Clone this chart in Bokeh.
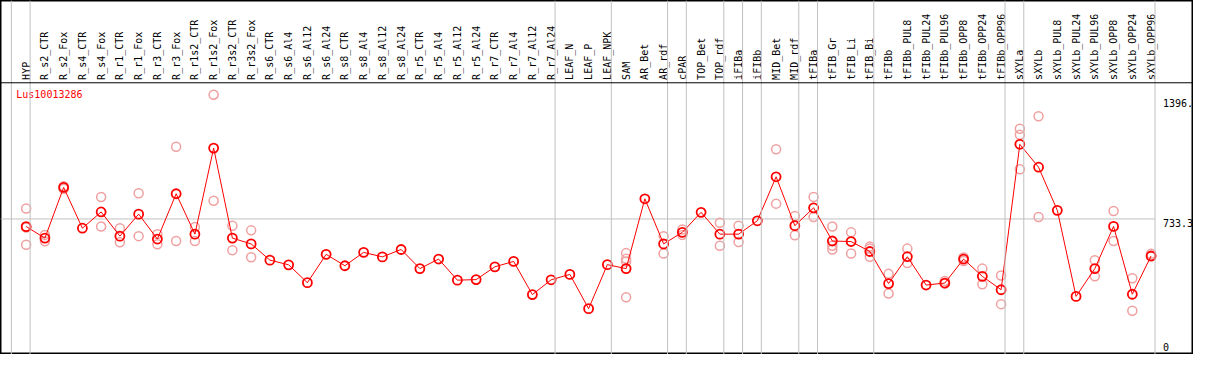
import math
from bokeh.plotting import figure
from bokeh.models import Range1d, Span, ColumnDataSource
from bokeh.core.properties import value
from bokeh.embed import file_html
from bokeh.resources import INLINE

gene = "Lus10013286"

categories = [
    "HYP", "R_s2_CTR", "R_s2_Fox", "R_s4_CTR", "R_s4_Fox", "R_r1_CTR", "R_r1_Fox",
    "R_r3_CTR", "R_r3_Fox", "R_r1s2_CTR", "R_r1s2_Fox", "R_r3s2_CTR", "R_r3s2_Fox",
    "R_s6_CTR", "R_s6_Al4", "R_s6_Al12", "R_s6_Al24", "R_s8_CTR", "R_s8_Al4",
    "R_s8_Al12", "R_s8_Al24", "R_r5_CTR", "R_r5_Al4", "R_r5_Al12", "R_r5_Al24",
    "R_r7_CTR", "R_r7_Al4", "R_r7_Al12", "R_r7_Al24", "LEAF_N", "LEAF_P", "LEAF_NPK",
    "SAM", "AR_Bet", "AR_rdf", "cPAR", "TOP_Bet", "TOP_rdf", "iFIBa", "iFIBb",
    "MID_Bet", "MID_rdf", "tFIBa", "tFIB_Gr", "tFIB_Li", "tFIB_Bi", "tFIBb",
    "tFIBb_PUL8", "tFIBb_PUL24", "tFIBb_PUL96", "tFIBb_OPP8", "tFIBb_OPP24",
    "tFIBb_OPP96", "sXYLa", "sXYLb", "sXYLb_PUL8", "sXYLb_PUL24", "sXYLb_PUL96",
    "sXYLb_OPP8", "sXYLb_OPP24", "sXYLb_OPP96",
]

means = [
    691, 627, 908, 682, 772, 638, 760, 622, 873, 649, 1126, 627, 595,
    505, 479, 380, 537, 474, 548, 523, 564, 458, 511, 394, 397, 468, 498, 314, 396,
    426, 236, 480,
    458, 845, 595, 659, 770, 649, 649, 723, 967, 696, 795, 611, 608, 553, 375,
    524, 367, 378, 511, 415, 341,
    1147, 1020, 781, 304, 458, 692, 316, 528,
]

replicates = [
    [791, 686, 590], [645, 609], [914, 900], [], [855, 691], [682, 604], [876, 638],
    [649, 593], [1133, 611], [689, 611], [1422, 834], [696, 560], [670, 521],
    [], [], [], [], [], [], [], [], [], [], [], [], [], [], [], [],
    [], [], [],
    [544, 512, 498, 299], [], [638, 542], [675, 645], [], [712, 585], [696, 606], [],
    [1120, 818], [749, 643], [855, 744], [691, 585, 564], [659, 542], [580, 569, 524],
    [429, 320],
    [569, 489], [], [390, 375], [520, 500], [458, 371], [420, 261],
    [1233, 1200, 1009], [1302, 744], [], [], [505, 415], [777, 611], [405, 224], [540, 525],
]

group_starts = [0, 1, 29, 32, 35, 36, 38, 39, 40, 42, 43, 46, 53, 54, 61]
y_ticks = [0, 733.3, 1396]
y_tick_labels = ["0", "733.3", "1396."]

# ---- layout constants ----
W, H = 1193, 354
X0, X1 = -26 / 19, 1183 / 19
Y0, Y1 = -18, 1944
HEADER_LINE = 1488          # value at header separator
HEADER_TEXT = 1504          # base of rotated labels
GRID_OFF = 15 / 19
MONO = value("DejaVu Sans Mono")
RED = "#ff0000"
PINK = "#f0a0a0"
GRAY = "#c0c0c0"

p = figure(width=W, height=H, output_backend="svg", toolbar_location=None,
           x_range=Range1d(X0, X1), y_range=Range1d(Y0, Y1),
           x_axis_type=None, y_axis_type=None, min_border=0)
p.min_border_left = p.min_border_right = p.min_border_top = p.min_border_bottom = 0
p.grid.visible = False
p.outline_line_color = "black"
p.outline_line_width = 2
p.background_fill_color = "white"
p.border_fill_color = "white"

# vertical group separators
for g in group_starts:
    p.add_layout(Span(location=g - GRID_OFF, dimension="height",
                      line_color=GRAY, line_width=1))

# horizontal gridline at middle tick
p.segment(x0=[X0], x1=[group_starts[-1] - GRID_OFF], y0=[y_ticks[1]], y1=[y_ticks[1]],
          line_color=GRAY, line_width=1)

# header separator
p.add_layout(Span(location=HEADER_LINE, dimension="width", line_color="black", line_width=1))

xs = list(range(len(categories)))

# category labels (rotated)
p.text(x=xs, y=[HEADER_TEXT] * len(xs), text=categories, angle=math.pi / 2,
       text_align="left", text_baseline="middle", text_font=MONO,
       text_font_size=value("10px"), text_color="black")

# replicate points
rx, ry = [], []
for i, reps in enumerate(replicates):
    for r in reps:
        rx.append(i)
        ry.append(r)
p.scatter(rx, ry, marker="circle", size=9, fill_color=None,
          line_color=PINK, line_width=1.5)

# mean line and points
p.line(xs, means, line_color=RED, line_width=1)
p.scatter(xs, means, marker="circle", size=9, fill_color=None,
          line_color=RED, line_width=1.8)

# title
p.text(x=[X0 + 16 / 19], y=[1451], text=[gene], text_align="left", text_baseline="top",
       text_font=MONO, text_font_size=value("10px"), text_color=RED)

# right-side value labels
lx = (1178 - 26) / 19
p.text(x=[lx] * 3, y=y_ticks, text=y_tick_labels, text_align="left",
       text_baseline=["bottom", "top", "top"], text_font=MONO,
       text_font_size=value("10px"), text_color="black")

open("out.html", "w").write(file_html(p, INLINE))
